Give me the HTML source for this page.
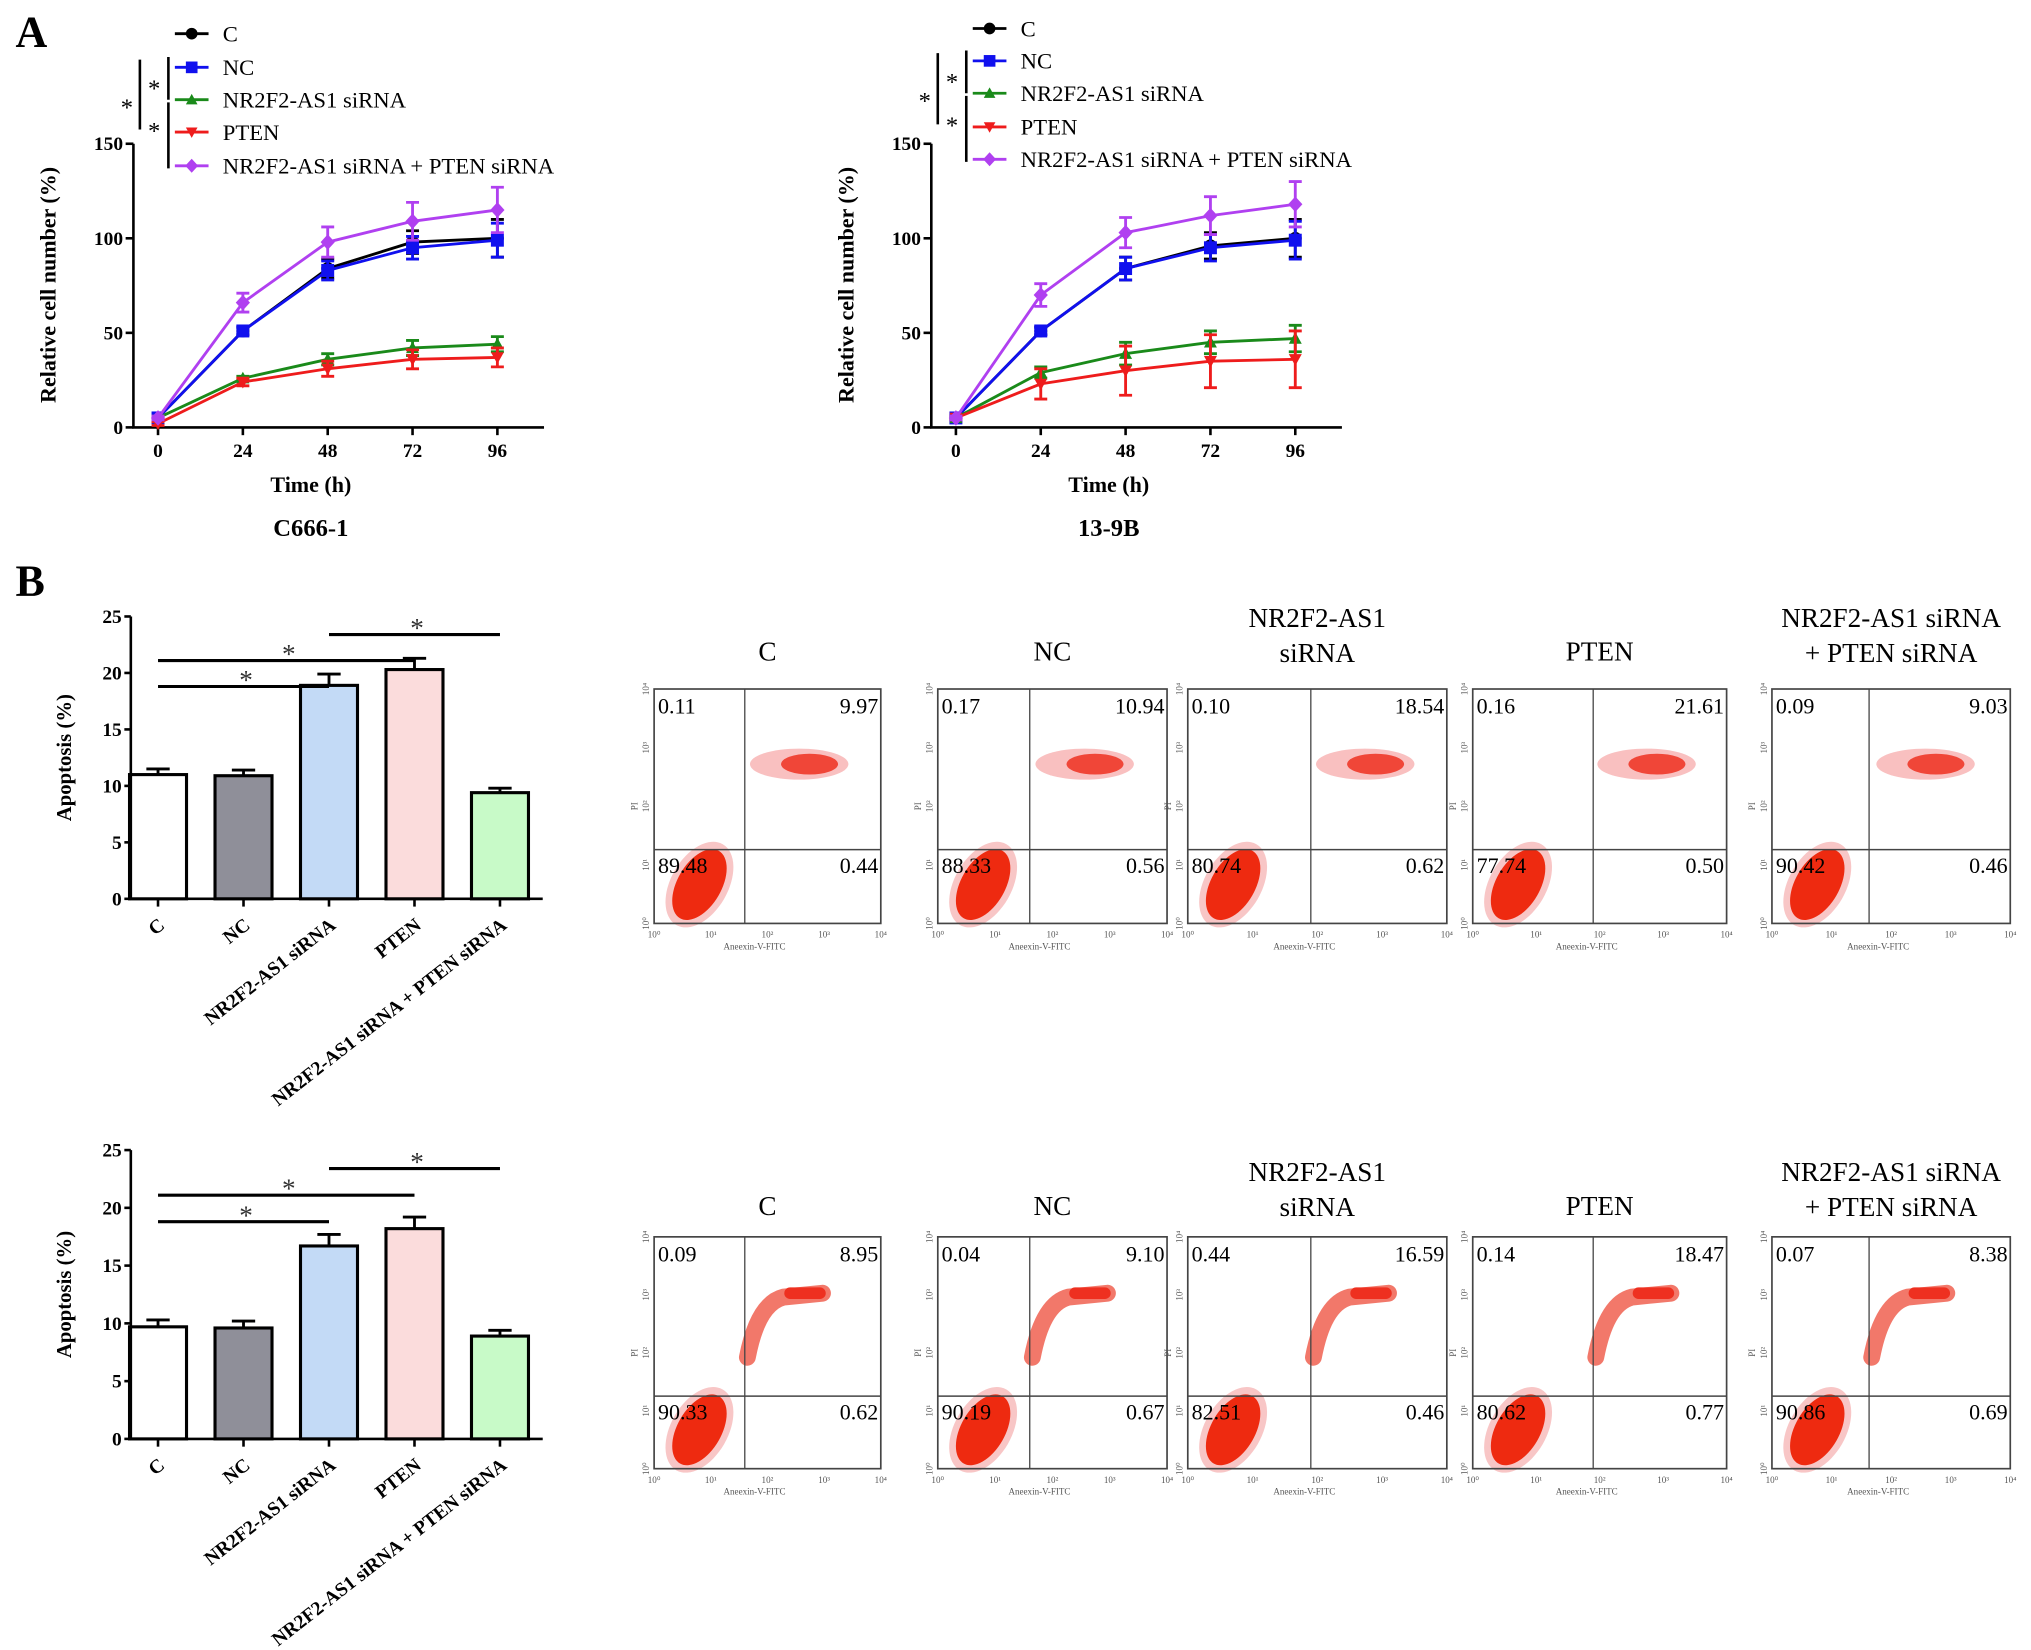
<!DOCTYPE html>
<html><head><meta charset="utf-8"><style>
html,body{margin:0;padding:0;background:#fff;}
svg{display:block;}
text{font-family:"Liberation Serif",serif;}
</style></head>
<body>
<svg id="fig" width="2031" height="1650" viewBox="0 0 1568 1274" preserveAspectRatio="none" xmlns="http://www.w3.org/2000/svg"></svg>
<script>
// ---- Line chart data ----
const timeCats = [0, 24, 48, 72, 96];
const yTicksLine = [0, 50, 100, 150];
const seriesNames = ["C", "NC", "NR2F2-AS1 siRNA", "PTEN", "NR2F2-AS1 siRNA + PTEN siRNA"];
const a1C = [5, 51, 84, 98, 100];
const a1NC = [5, 51, 83, 95, 99];
const a1Si = [5, 26, 36, 42, 44];
const a1PTEN = [2, 24, 31, 36, 37];
const a1Combo = [5, 66, 98, 109, 115];
const a1CErr = [1, 2, 5, 6, 10];
const a1NCErr = [1, 2, 5, 6, 9];
const a1SiErr = [1, 1, 3, 4, 4];
const a1PTENErr = [1, 2, 4, 5, 5];
const a1ComboErr = [1, 5, 8, 10, 12];
const a2C = [5, 51, 84, 96, 100];
const a2NC = [5, 51, 84, 95, 99];
const a2Si = [5, 29, 39, 45, 47];
const a2PTEN = [5, 23, 30, 35, 36];
const a2Combo = [5, 70, 103, 112, 118];
const a2CErr = [1, 2, 6, 7, 10];
const a2NCErr = [1, 2, 6, 7, 10];
const a2SiErr = [1, 3, 6, 6, 7];
const a2PTENErr = [1, 8, 13, 14, 15];
const a2ComboErr = [1, 6, 8, 10, 12];
// ---- Bar chart data ----
const barCats = ["C", "NC", "NR2F2-AS1 siRNA", "PTEN", "NR2F2-AS1 siRNA + PTEN siRNA"];
const yTicksBar = [0, 5, 10, 15, 20, 25];
const b1Vals = [11.0, 10.9, 18.9, 20.3, 9.4];
const b1Err = [0.5, 0.5, 1.0, 1.0, 0.4];
const b2Vals = [9.7, 9.6, 16.7, 18.2, 8.9];
const b2Err = [0.6, 0.6, 1.0, 1.0, 0.5];
// ---- Flow cytometry quadrant values ----
const flowTitles = [["C"], ["NC"], ["NR2F2-AS1", "siRNA"], ["PTEN"], ["NR2F2-AS1 siRNA", "+ PTEN siRNA"]];
const flow1UL = ["0.11", "0.17", "0.10", "0.16", "0.09"];
const flow1UR = ["9.97", "10.94", "18.54", "21.61", "9.03"];
const flow1LL = ["89.48", "88.33", "80.74", "77.74", "90.42"];
const flow1LR = ["0.44", "0.56", "0.62", "0.50", "0.46"];
const flow2UL = ["0.09", "0.04", "0.44", "0.14", "0.07"];
const flow2UR = ["8.95", "9.10", "16.59", "18.47", "8.38"];
const flow2LL = ["90.33", "90.19", "82.51", "80.62", "90.86"];
const flow2LR = ["0.62", "0.67", "0.46", "0.77", "0.69"];

const NS = "http://www.w3.org/2000/svg";
const svg = document.getElementById("fig");
function el(tag, attrs, parent) {
  const e = document.createElementNS(NS, tag);
  for (const k in attrs) e.setAttribute(k, attrs[k]);
  (parent || svg).appendChild(e);
  return e;
}
function txt(s, attrs, parent) { const t = el("text", attrs, parent); t.textContent = s; return t; }

let t = txt("A", {x: 12, y: 36, "font-size": 34, "font-weight": "bold"});


t = txt("B", {x: 12, y: 460, "font-size": 34, "font-weight": "bold"});



const colors = ["#000", "#1010ee", "#1a8a1a", "#ee1c1c", "#b040f0"];
function marker(g, type, x, y, c, s) {
  let m;
  if (type === 0) m = el("circle", {cx: x, cy: y, r: s, fill: c}, g);
  else if (type === 1) m = el("rect", {x: x - s, y: y - s, width: 2 * s, height: 2 * s, fill: c}, g);
  else if (type === 2) m = el("polygon", {points: `${x},${y - s} ${x + s},${y + s * 0.8} ${x - s},${y + s * 0.8}`, fill: c}, g);
  else if (type === 3) m = el("polygon", {points: `${x},${y + s} ${x + s},${y - s * 0.8} ${x - s},${y - s * 0.8}`, fill: c}, g);
  else m = el("polygon", {points: `${x},${y - s * 1.2} ${x + s * 1.1},${y} ${x},${y + s * 1.2} ${x - s * 1.1},${y}`, fill: c}, g);
  return m;
}

function lineChart(ox, name, title, vals, errs, legY) {
  const g = el("g", {});
  
  
  const x0 = ox + 19, xStep = 65.5, yBase = 330, yTop = 111;
  const X = i => x0 + i * xStep;
  const Y = v => yBase - (v / 150) * (yBase - yTop);
  const ax = el("path", {d: `M${ox} ${yTop}V${yBase}H${ox + 317}`, stroke: "#000", "stroke-width": 2, fill: "none"}, g);
  
  
  yTicksLine.forEach(v => {
    el("line", {x1: ox - 6, x2: ox, y1: Y(v), y2: Y(v), stroke: "#000", "stroke-width": 2}, g);
    const tl = txt(String(v), {x: ox - 8, y: Y(v) + 5, "font-size": 15, "font-weight": "bold", "text-anchor": "end"}, g);
    
    
  });
  timeCats.forEach((c, i) => {
    el("line", {x1: X(i), x2: X(i), y1: yBase, y2: yBase + 6, stroke: "#000", "stroke-width": 2}, g);
    const tl = txt(String(c), {x: X(i), y: yBase + 23, "font-size": 15, "font-weight": "bold", "text-anchor": "middle"}, g);
    
    
  });
  let a = txt("Time (h)", {x: ox + 137, y: 380, "font-size": 17, "font-weight": "bold", "text-anchor": "middle"}, g);
  
  
  a = txt("Relative cell number (%)", {x: 0, y: 0, "font-size": 17, "font-weight": "bold", "text-anchor": "middle", transform: `translate(${ox - 60},220) rotate(-90)`}, g);
  
  
  a = txt(title, {x: ox + 137, y: 414, "font-size": 19, "font-weight": "bold", "text-anchor": "middle"}, g);
  
  
  vals.forEach((s, k) => {
    const sg = el("g", {}, g);
    
    
    el("polyline", {points: s.map((v, i) => `${X(i)},${Y(v)}`).join(" "), fill: "none", stroke: colors[k], "stroke-width": 2.2}, sg);
    s.forEach((v, i) => {
      const e = errs[k][i];
      el("path", {d: `M${X(i)} ${Y(v - e)}V${Y(v + e)}M${X(i) - 5} ${Y(v - e)}h10M${X(i) - 5} ${Y(v + e)}h10`, stroke: colors[k], "stroke-width": 2.2, fill: "none"}, sg);
      const m = marker(sg, k, X(i), Y(v), colors[k], 5);
      
      
    });
  });
  const lx = ox + 32;
  seriesNames.forEach((n, k) => {
    const ly = legY[k];
    const lg = el("g", {}, g);
    
    
    el("line", {x1: lx, x2: lx + 26, y1: ly, y2: ly, stroke: colors[k], "stroke-width": 2.2}, lg);
    marker(lg, k, lx + 13, ly, colors[k], 4.5);
    txt(n, {x: lx + 37, y: ly + 6, "font-size": 17.5}, lg);
  });
  const sig = el("g", {}, g);
  
  
  el("line", {x1: lx - 5, x2: lx - 5, y1: legY[1] - 8, y2: legY[2], stroke: "#000", "stroke-width": 2}, sig);
  el("line", {x1: lx - 5, x2: lx - 5, y1: legY[2] + 2, y2: legY[4] + 2, stroke: "#000", "stroke-width": 2}, sig);
  el("line", {x1: lx - 27, x2: lx - 27, y1: legY[1] - 6, y2: legY[3] - 2, stroke: "#000", "stroke-width": 2}, sig);
  txt("*", {x: lx - 16, y: (legY[1] + legY[2]) / 2 + 10, "font-size": 19, "text-anchor": "middle"}, sig);
  txt("*", {x: lx - 16, y: (legY[3] + legY[2]) / 2 + 18, "font-size": 19, "text-anchor": "middle"}, sig);
  txt("*", {x: lx - 37, y: legY[2] + 12, "font-size": 19, "text-anchor": "middle"}, sig);
}
lineChart(103, "line-chart-c666-1", "C666-1", [a1C, a1NC, a1Si, a1PTEN, a1Combo], [a1CErr, a1NCErr, a1SiErr, a1PTENErr, a1ComboErr], [26, 52, 77, 102, 128]);
lineChart(719, "line-chart-13-9b", "13-9B", [a2C, a2NC, a2Si, a2PTEN, a2Combo], [a2CErr, a2NCErr, a2SiErr, a2PTENErr, a2ComboErr], [22, 47, 72, 98, 123]);

const barFill = ["#ffffff", "#8f8f99", "#c3daf6", "#fbdcdc", "#c8fac8"];
function barChart(yTop, yBase, name, vals, errs) {
  const g = el("g", {});
  
  
  const ox = 101, x0 = 122, step = 66, bw = 44;
  const X = i => x0 + i * step;
  const Y = v => yBase - (v / 25) * (yBase - yTop);
  yTicksBar.forEach(v => {
    el("line", {x1: ox - 5, x2: ox, y1: Y(v), y2: Y(v), stroke: "#000", "stroke-width": 2}, g);
    const tl = txt(String(v), {x: ox - 7, y: Y(v) + 5, "font-size": 15, "font-weight": "bold", "text-anchor": "end"}, g);
    
    
  });
  let a = txt("Apoptosis (%)", {x: 0, y: 0, "font-size": 16, "font-weight": "bold", "text-anchor": "middle", transform: `translate(${ox - 46},${(yTop + yBase) / 2}) rotate(-90)`}, g);
  
  
  vals.forEach((v, i) => {
    const e = errs[i];
    el("path", {d: `M${X(i)} ${Y(v)}V${Y(v + e)}M${X(i) - 9} ${Y(v + e)}h18`, stroke: "#000", "stroke-width": 2.2, fill: "none"}, g);
    const b = el("rect", {x: X(i) - bw / 2, y: Y(v), width: bw, height: yBase - Y(v), fill: barFill[i], stroke: "#000", "stroke-width": 2.4}, g);
    
    
    el("line", {x1: X(i), x2: X(i), y1: yBase, y2: yBase + 6, stroke: "#000", "stroke-width": 2}, g);
    const tl = txt(barCats[i], {x: 0, y: 0, "font-size": 15, "font-weight": "bold", "text-anchor": "end", transform: `translate(${X(i) + 6},${yBase + 22}) rotate(-38)`}, g);
    
    
  });
  const ax = el("path", {d: `M${ox} ${yTop}V${yBase}H${ox + 318}`, stroke: "#000", "stroke-width": 2, fill: "none"}, g);
  
  
  const sig = el("g", {}, g);
  
  
  [[0, 2, 18.8], [0, 3, 21.1], [2, 4, 23.4]].forEach(([i, j, v]) => {
    el("line", {x1: X(i), x2: X(j), y1: Y(v), y2: Y(v), stroke: "#000", "stroke-width": 2.4}, sig);
    txt("*", {x: (X(i) + X(j)) / 2 + 2, y: Y(v) + 2, "font-size": 21, "text-anchor": "middle", fill: "#333"}, sig);
  });
}
barChart(476, 694, "bar-chart-c666-1", b1Vals, b1Err);
barChart(888, 1111, "bar-chart-13-9b", b2Vals, b2Err);

const flowLefts = [505, 724, 917, 1137, 1368];
const flowRights = [680, 901, 1117, 1333, 1552];
const flowDivX = [575, 795, 1012, 1230, 1443];
function flowRow(top, bottom, divY, ul, ur, ll, lr, titleY, rowIdx) {
  flowLefts.forEach((L, i) => {
    const R = flowRights[i], D = flowDivX[i];
    const g = el("g", {});
    
    
    const tl = flowTitles[i];
    tl.forEach((s, k) => {
      const yy = tl.length === 1 ? titleY + 26 : titleY + k * 27;
      const tt = txt(s, {x: (L + R) / 2, y: yy, "font-size": 21, "text-anchor": "middle"}, g);
      
      
    });
    const cx1 = L + 35, cy1 = bottom - 30;
    el("ellipse", {cx: cx1, cy: cy1, rx: 36, ry: 22, fill: "#f4a0a0", opacity: 0.6, transform: `rotate(-60 ${cx1} ${cy1})`}, g);
    el("ellipse", {cx: cx1, cy: cy1, rx: 30, ry: 17, fill: "#ee2a10", transform: `rotate(-60 ${cx1} ${cy1})`}, g);
    const cx2 = D + (R - D) * 0.4, cy2 = top + (divY - top) * 0.5;
    if (rowIdx === 0) {
      el("ellipse", {cx: cx2, cy: cy2 - 4, rx: 38, ry: 12, fill: "#f7b0b0", opacity: 0.8}, g);
      el("ellipse", {cx: cx2 + 8, cy: cy2 - 4, rx: 22, ry: 8, fill: "#ee3020", opacity: 0.85}, g);
    } else {
      el("path", {d: `M${D + 2} ${divY - 30} Q${D + 10} ${cy2 - 10} ${D + 30} ${cy2 - 15} L${D + 60} ${cy2 - 18}`, stroke: "#f06050", "stroke-width": 13, fill: "none", "stroke-linecap": "round", opacity: 0.85}, g);
      el("path", {d: `M${D + 35} ${cy2 - 18} L${D + 58} ${cy2 - 18}`, stroke: "#ee3020", "stroke-width": 9, fill: "none", "stroke-linecap": "round"}, g);
    }
    el("rect", {x: L, y: top, width: R - L, height: bottom - top, fill: "none", stroke: "#444", "stroke-width": 1.3}, g);
    el("line", {x1: D, x2: D, y1: top, y2: bottom, stroke: "#444", "stroke-width": 1}, g);
    el("line", {x1: L, x2: R, y1: divY, y2: divY, stroke: "#444", "stroke-width": 1.2}, g);
    for (let k = 0; k <= 4; k++) {
      const xx = L + (R - L) * k / 4, yy = bottom - (bottom - top) * k / 4;
      txt("10" + ["⁰", "¹", "²", "³", "⁴"][k], {x: xx, y: bottom + 11, "font-size": 7, "font-family": "Liberation Sans", "text-anchor": "middle", fill: "#555"}, g);
      txt("10" + ["⁰", "¹", "²", "³", "⁴"][k], {x: 0, y: 0, "font-size": 7, "font-family": "Liberation Sans", "text-anchor": "middle", fill: "#555", transform: `translate(${L - 4},${yy}) rotate(-90)`}, g);
    }
    txt("Aneexin-V-FITC", {x: (L + R) / 2 - 10, y: bottom + 20, "font-size": 7, "font-family": "Liberation Sans", "text-anchor": "middle", fill: "#555"}, g);
    txt("PI", {x: 0, y: 0, "font-size": 7, "font-family": "Liberation Sans", "text-anchor": "middle", fill: "#555", transform: `translate(${L - 13},${(top + bottom) / 2}) rotate(-90)`}, g);
    const q = [[ul[i], L + 3, top + 19, "start"], [ur[i], R - 2, top + 19, "end"], [ll[i], L + 3, divY + 18, "start"], [lr[i], R - 2, divY + 18, "end"]];
    q.forEach(([s, x, y, an]) => {
      const qt = txt(s, {x: x, y: y, "font-size": 17, "text-anchor": an}, g);
      
      
    });
  });
}
flowRow(532, 713, 656, flow1UL, flow1UR, flow1LL, flow1LR, 484, 0);
flowRow(955, 1134, 1078, flow2UL, flow2UR, flow2LL, flow2LR, 912, 1);
</script>
</body></html>
